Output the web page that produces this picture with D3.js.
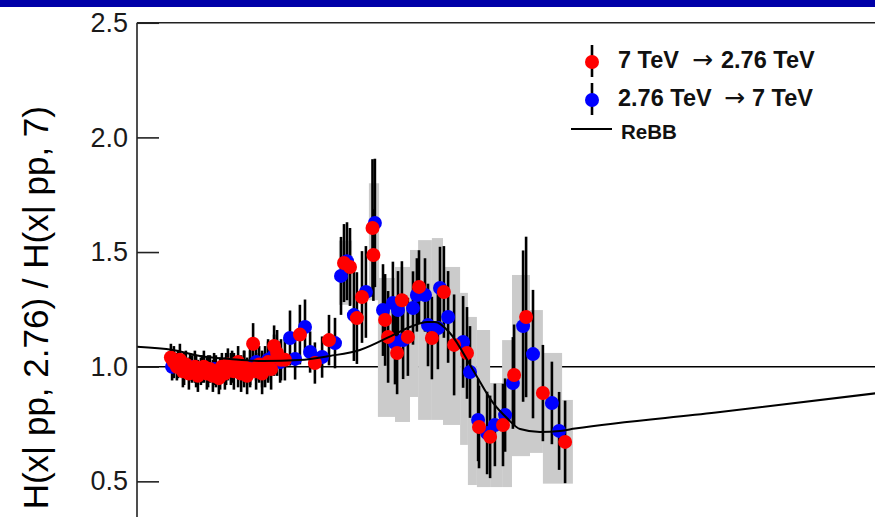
<!DOCTYPE html>
<html>
<head>
<meta charset="utf-8">
<script src="https://cdn.jsdelivr.net/npm/d3@7"></script>
<style>
  html, body { margin: 0; padding: 0; background: #fff; overflow: hidden; }
  text { font-family: "Liberation Sans", Arial, Helvetica, sans-serif; }
</style>
</head>
<body>
<svg id="chart" width="875" height="517"></svg>
<script>
// ---- data -------------------------------------------------------------
// 7 TeV -> 2.76 TeV extrapolated ratio (red)
const redX = [1.13,1.23,1.33,1.43,1.53,1.63,1.73,1.83,1.93,2.03,2.13,2.23,2.33,2.43,2.53,2.63,2.73,2.83,2.93,3.03,
              3.13,3.23,3.37,3.47,3.57,3.67,3.77,3.87,3.97,4.07,4.17,4.27,4.37,4.47,4.57,4.67,4.80,
              4.93,5.43,5.93,6.40,6.90,7.10,7.33,7.50,7.85,7.88,8.27,8.37,8.67,8.83,9.03,9.40,9.83,10.23,
              10.57,11.00,11.40,11.77,12.20,12.57,12.97,13.53,14.27];
const redY = [1.04,1.02,1.00,1.03,0.98,1.01,0.97,0.99,1.00,0.96,0.98,1.00,0.97,0.99,0.96,0.98,0.95,1.00,0.97,1.01,
              0.99,0.98,1.02,0.97,1.00,0.96,0.99,1.10,0.98,1.01,0.97,1.00,1.02,0.99,1.09,1.06,1.03,
              1.03,1.14,1.016,1.116,1.452,1.435,1.212,1.304,1.605,1.487,1.204,1.13,1.06,1.29,1.13,1.348,1.125,1.326,
              1.095,1.06,0.737,0.694,0.746,0.964,1.217,0.885,0.672];
const redErr = [0.06,0.07,0.06,0.07,0.07,0.06,0.07,0.06,0.07,0.07,0.06,0.07,0.07,0.06,0.07,0.07,0.07,0.06,0.07,0.07,
                0.07,0.08,0.07,0.08,0.07,0.08,0.08,0.09,0.08,0.08,0.09,0.09,0.09,0.09,0.09,0.10,0.09,
                0.09,0.13,0.09,0.11,0.17,0.17,0.20,0.20,0.30,0.20,0.20,0.20,0.18,0.17,0.17,0.16,0.18,0.20,
                0.22,0.20,0.18,0.18,0.18,0.22,0.35,0.21,0.18];

// 2.76 TeV -> 7 TeV extrapolated ratio (blue)
const blueX = [1.17,1.37,1.57,1.77,1.97,2.17,2.37,2.57,2.77,2.97,3.17,3.37,3.57,3.77,3.97,4.17,4.37,4.57,4.77,
               5.10,5.27,5.60,5.77,6.17,6.60,6.80,7.00,7.23,7.63,7.93,8.20,8.53,8.60,8.70,8.87,9.20,9.33,9.60,
               9.70,10.03,10.10,10.37,10.87,11.10,11.37,11.67,11.93,12.27,12.53,12.87,13.20,13.83,14.07];
const blueY = [1.00,1.01,0.99,1.00,0.98,0.99,0.98,0.99,0.97,0.99,1.00,0.98,0.99,1.00,1.02,0.99,1.03,1.05,1.02,
               1.125,1.034,1.173,1.064,1.042,1.103,1.396,1.46,1.225,1.326,1.627,1.247,1.278,1.103,1.247,1.116,1.256,1.313,1.313,
               1.182,1.169,1.343,1.217,1.108,0.977,0.768,0.711,0.746,0.789,0.929,1.177,1.055,0.842,0.72];
const blueErr = [0.06,0.06,0.07,0.06,0.07,0.06,0.07,0.07,0.07,0.07,0.07,0.07,0.08,0.08,0.08,0.08,0.09,0.09,0.09,
                 0.12,0.09,0.12,0.09,0.09,0.11,0.17,0.17,0.20,0.20,0.28,0.20,0.18,0.18,0.17,0.17,0.16,0.16,0.16,
                 0.18,0.18,0.18,0.20,0.20,0.20,0.18,0.18,0.18,0.16,0.20,0.33,0.28,0.18,0.17];

// systematic uncertainty boxes: [x from, x to, low, high]
const sysX0  = [6.73,7.73,8.03,8.60,9.10,9.37,9.83,10.20,10.77,11.03,11.33,11.77,12.17,12.50,13.10,13.53,14.17];
const sysX1  = [7.17,8.07,8.60,9.10,9.37,9.83,10.20,10.77,11.03,11.33,11.77,12.17,12.50,13.10,13.53,14.17,14.53];
const sysLow = [1.27,1.29,0.781,0.759,0.868,0.768,0.768,0.746,0.659,0.484,0.475,0.475,0.475,0.61,0.624,0.49,0.49];
const sysHigh= [1.55,1.80,1.387,1.435,1.509,1.552,1.561,1.435,1.322,1.217,1.16,0.929,1.116,1.40,1.247,1.06,0.855];

// ReBB model curve
const rebbX = [0,1.2,2.1,3.1,4.2,5.43,6.43,7.43,8.53,9.1,9.67,9.93,10.43,11.2,11.87,12.33,12.77,13.43,14.1,14.6,19.3,25];
const rebbY = [1.087,1.073,1.047,1.034,1.025,1.029,1.047,1.073,1.138,1.173,1.195,1.195,1.147,0.986,0.842,0.776,0.728,0.715,0.72,0.73,0.80,0.89];

const yTicks = [0.5, 1.0, 1.5, 2.0, 2.5];

// ---- layout -----------------------------------------------------------
const svg = d3.select("#chart");
const W = 875, H = 517;
const R = 7;
const x = d3.scaleLinear().domain([0, 25]).range([137, 887]);
const y = d3.scaleLinear().domain([0.5, 2.5]).range([481.35, 22.75]);

// slide header stripe
svg.append("rect").attr("x", 0).attr("y", 0).attr("width", W).attr("height", 7).attr("fill", "#0000a8");

// reference line at unity
svg.append("line")
  .attr("x1", x(0)).attr("x2", W)
  .attr("y1", y(1)).attr("y2", y(1))
  .attr("stroke", "#000").attr("stroke-width", 1.6);

// systematic bands
svg.append("g").selectAll("rect")
  .data(d3.range(sysX0.length))
  .join("rect")
  .attr("x", i => x(sysX0[i]))
  .attr("width", i => x(sysX1[i]) - x(sysX0[i]))
  .attr("y", i => y(sysHigh[i]))
  .attr("height", i => y(sysLow[i]) - y(sysHigh[i]))
  .attr("fill", "#cbcbcb");

const red = d3.range(redX.length).map(i => ({x: redX[i], v: redY[i], e: redErr[i]}));
const blue = d3.range(blueX.length).map(i => ({x: blueX[i], v: blueY[i], e: blueErr[i]}));

// statistical error bars
const bars = svg.append("g").attr("stroke", "#000").attr("stroke-width", 2.6);
[blue, red].forEach(series => {
  bars.append("g").selectAll("line")
    .data(series)
    .join("line")
    .attr("x1", d => x(d.x)).attr("x2", d => x(d.x))
    .attr("y1", d => y(d.v - d.e)).attr("y2", d => y(d.v + d.e));
});

// markers
svg.append("g").selectAll("circle")
  .data(blue).join("circle")
  .attr("cx", d => x(d.x)).attr("cy", d => y(d.v)).attr("r", R)
  .attr("fill", "#0000ff");
svg.append("g").selectAll("circle")
  .data(red).join("circle")
  .attr("cx", d => x(d.x)).attr("cy", d => y(d.v)).attr("r", R)
  .attr("fill", "#ff0000");

// ReBB curve
const rebb = rebbX.map((v, i) => [v, rebbY[i]]);
svg.append("path")
  .datum(rebb)
  .attr("fill", "none")
  .attr("stroke", "#000")
  .attr("stroke-width", 2)
  .attr("d", d3.line().x(d => x(d[0])).y(d => y(d[1])).curve(d3.curveMonotoneX));

// frame
svg.append("line").attr("x1", x(0)).attr("x2", W).attr("y1", y(2.5)).attr("y2", y(2.5))
  .attr("stroke", "#222").attr("stroke-width", 1.6);
svg.append("line").attr("x1", x(0)).attr("x2", x(0)).attr("y1", y(2.5)).attr("y2", H)
  .attr("stroke", "#222").attr("stroke-width", 1.6);

// y axis
const yAxis = d3.axisLeft(y)
  .tickValues(yTicks)
  .tickFormat(d3.format(".1f"))
  .tickSizeInner(-22)
  .tickSizeOuter(0)
  .tickPadding(9);
const gy = svg.append("g").attr("transform", `translate(${x(0)},0)`).call(yAxis);
gy.select(".domain").remove();
gy.selectAll(".tick line").attr("stroke", "#222").attr("stroke-width", 1.6);
gy.selectAll(".tick text")
  .attr("font-family", "'Liberation Sans', Arial, sans-serif")
  .attr("font-size", 27)
  .attr("fill", "#1a1a1a");

// y axis title
svg.append("text")
  .attr("transform", "translate(48,106) rotate(-90)")
  .attr("text-anchor", "end")
  .attr("font-size", 35)
  .attr("fill", "#000")
  .text("H(x| pp, 2.76) / H(x| pp, 7)");

// legend
const leg = svg.append("g");
const legRows = [
  {color: "#ff0000", cy: 62, parts: [["7 TeV", 618], ["\u2192", 692], ["2.76 TeV", 721]]},
  {color: "#0000ff", cy: 100, parts: [["2.76 TeV", 618], ["\u2192", 724], ["7 TeV", 752]]}
];
legRows.forEach(r => {
  leg.append("line").attr("x1", 592).attr("x2", 592).attr("y1", r.cy - 17).attr("y2", r.cy + 15)
    .attr("stroke", "#000").attr("stroke-width", 2.6);
  leg.append("circle").attr("cx", 592).attr("cy", r.cy).attr("r", R).attr("fill", r.color);
  const t = leg.append("text").attr("y", r.cy + 6).attr("font-size", 23.5).attr("fill", "#111");
  r.parts.forEach(([s, px]) => {
    const ts = t.append("tspan").attr("x", px).text(s);
    if (s === "\u2192") ts.attr("font-weight", "normal").attr("font-family", "'DejaVu Sans', sans-serif").attr("font-size", 25);
    else ts.attr("font-weight", "bold");
  });
});
leg.append("line").attr("x1", 571).attr("x2", 612).attr("y1", 129).attr("y2", 129)
  .attr("stroke", "#000").attr("stroke-width", 2);
leg.append("text").attr("x", 621).attr("y", 139).attr("font-size", 20.5).attr("font-weight", 600).attr("fill", "#111")
  .text("ReBB");
</script>
</body>
</html>
